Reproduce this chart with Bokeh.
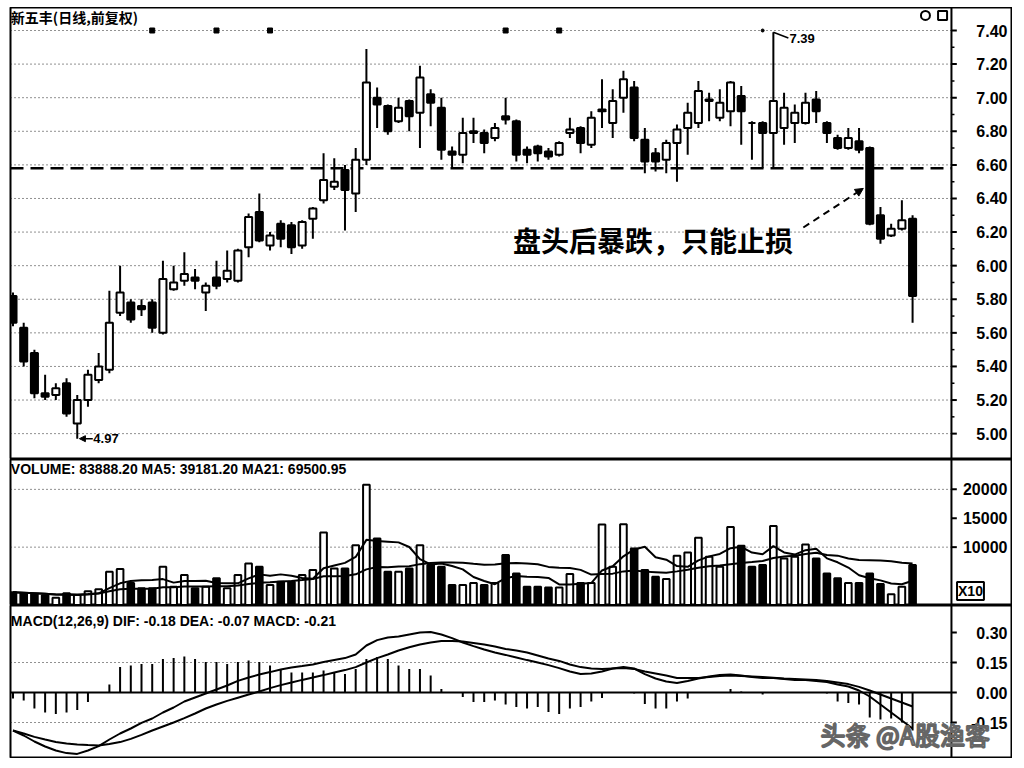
import pandas as pd
from bokeh.plotting import figure
from bokeh.models import (Range1d, ColumnDataSource, Label, Span,
                          Arrow, NormalHead)
from bokeh.layouts import column
from bokeh.embed import file_html
from bokeh.resources import INLINE
from bokeh.core.properties import value

# ---------------- data ----------------
opens = [5.82, 5.63, 5.48, 5.24, 5.23, 5.30, 5.06, 5.20, 5.32, 5.38,
         5.72, 5.78, 5.76, 5.78, 5.60, 5.86, 5.91, 5.93, 5.84, 5.93,
         5.92, 5.91, 6.11, 6.32, 6.12, 6.25, 6.24, 6.12, 6.28, 6.39,
         6.47, 6.57, 6.43, 6.63, 7.00, 6.95, 6.86, 6.98, 6.91, 7.02,
         6.94, 6.68, 6.66, 6.79, 6.79, 6.76, 6.89, 6.86, 6.69, 6.71,
         6.68, 6.66, 6.79, 6.82, 6.72, 6.92, 6.85, 7.00, 7.06, 6.75,
         6.67, 6.63, 6.73, 6.82, 6.85, 6.98, 6.88, 6.92, 7.01, 6.85,
         6.85, 6.79, 6.82, 6.85, 6.85, 6.99, 6.85, 6.76, 6.70, 6.74,
         6.70, 6.30, 6.18, 6.22, 6.28]
highs = [5.84, 5.66, 5.50, 5.35, 5.30, 5.33, 5.23, 5.38, 5.48, 5.85,
         6.00, 5.80, 5.80, 5.80, 6.03, 6.00, 6.08, 5.98, 5.90, 6.03,
         6.09, 6.10, 6.31, 6.43, 6.20, 6.27, 6.26, 6.27, 6.35, 6.67,
         6.64, 6.60, 6.70, 7.29, 7.06, 6.96, 7.00, 6.99, 7.19, 7.05,
         7.00, 6.71, 6.88, 6.88, 6.81, 6.85, 7.00, 6.87, 6.71, 6.72,
         6.70, 6.74, 6.88, 6.83, 6.92, 7.11, 7.05, 7.16, 7.10, 6.82,
         6.70, 6.75, 6.84, 6.97, 7.10, 7.03, 7.05, 7.10, 7.07, 6.86,
         6.86, 7.39, 7.03, 6.96, 7.03, 7.04, 6.86, 6.78, 6.82, 6.82,
         6.71, 6.35, 6.25, 6.39, 6.30]
lows = [5.64, 5.40, 5.21, 5.20, 5.20, 5.10, 4.97, 5.16, 5.30, 5.36,
        5.70, 5.66, 5.70, 5.60, 5.59, 5.85, 5.88, 5.86, 5.73, 5.86,
        5.90, 5.90, 6.05, 6.14, 6.09, 6.11, 6.07, 6.10, 6.16, 6.37,
        6.45, 6.21, 6.32, 6.60, 6.82, 6.78, 6.85, 6.80, 6.70, 6.83,
        6.63, 6.58, 6.61, 6.73, 6.67, 6.74, 6.84, 6.62, 6.61, 6.62,
        6.63, 6.65, 6.76, 6.67, 6.70, 6.82, 6.76, 6.91, 6.74, 6.55,
        6.56, 6.55, 6.50, 6.66, 6.82, 6.86, 6.86, 6.83, 6.72, 6.63,
        6.58, 6.58, 6.72, 6.73, 6.84, 6.85, 6.73, 6.69, 6.69, 6.67,
        6.24, 6.13, 6.17, 6.21, 5.66]
closes = [5.66, 5.43, 5.24, 5.22, 5.27, 5.12, 5.20, 5.35, 5.40, 5.66,
          5.84, 5.68, 5.74, 5.63, 5.92, 5.90, 5.95, 5.91, 5.88, 5.88,
          5.97, 6.09, 6.29, 6.15, 6.18, 6.16, 6.11, 6.26, 6.34, 6.51,
          6.50, 6.45, 6.63, 7.09, 6.96, 6.80, 6.94, 6.89, 7.12, 6.97,
          6.69, 6.66, 6.79, 6.80, 6.73, 6.82, 6.87, 6.66, 6.66, 6.67,
          6.65, 6.73, 6.81, 6.73, 6.88, 6.93, 6.98, 7.11, 6.76, 6.62,
          6.62, 6.73, 6.81, 6.91, 7.04, 6.99, 6.97, 7.09, 6.92, 6.85,
          6.79, 6.98, 6.94, 6.91, 6.97, 6.92, 6.79, 6.70, 6.76, 6.69,
          6.25, 6.16, 6.22, 6.27, 5.82]
volumes = [2190, 2010, 1840, 1670, 1260, 2010, 1700, 2360, 2700, 5750,
           6200, 3790, 2870, 2870, 6610, 3160, 5170, 2870, 3160, 4600,
           2870, 5170, 7180, 6610, 3450, 4020, 4020, 5170, 6030, 12530,
           6320, 6320, 10340, 20800, 11490, 5750, 5750, 6320, 10340, 6900,
           6610, 3450, 3450, 3790, 3450, 3790, 8620, 5460, 3160, 3160,
           3000, 3000, 5340, 3790, 3790, 13900, 6610, 13960, 9770, 6030,
           4880, 4480, 8510, 9080, 11610, 8330, 6610, 13500, 10230, 6610,
           6900, 13670, 8040, 8330, 10460, 8040, 5460, 4600, 3790, 3790,
           5460, 3620, 1840, 3160, 6900]
dif = [-0.19, -0.215, -0.245, -0.27, -0.29, -0.303, -0.307, -0.29, -0.268, -0.235,
       -0.205, -0.18, -0.152, -0.13, -0.10, -0.075, -0.045, -0.025, -0.005, 0.015,
       0.035, 0.058, 0.075, 0.09, 0.102, 0.115, 0.125, 0.132, 0.14, 0.152,
       0.162, 0.172, 0.19, 0.235, 0.262, 0.275, 0.28, 0.29, 0.30, 0.302,
       0.29, 0.272, 0.25, 0.232, 0.215, 0.20, 0.188, 0.175, 0.162, 0.15,
       0.137, 0.122, 0.105, 0.093, 0.095, 0.105, 0.12, 0.127, 0.12, 0.092,
       0.07, 0.055, 0.048, 0.058, 0.07, 0.08, 0.087, 0.09, 0.085, 0.078,
       0.073, 0.072, 0.068, 0.063, 0.062, 0.058, 0.052, 0.04, 0.03, 0.01,
       -0.02, -0.06, -0.10, -0.14, -0.18]
dea = [-0.19, -0.205, -0.222, -0.235, -0.247, -0.255, -0.26, -0.263, -0.265, -0.258,
       -0.248, -0.232, -0.212, -0.19, -0.17, -0.15, -0.128, -0.105, -0.08, -0.06,
       -0.042, -0.026, -0.01, 0.005, 0.022, 0.037, 0.05, 0.063, 0.075, 0.087,
       0.10, 0.112, 0.127, 0.15, 0.172, 0.19, 0.21, 0.226, 0.24, 0.25,
       0.257, 0.258, 0.255, 0.248, 0.24, 0.23, 0.218, 0.21, 0.20, 0.185,
       0.17, 0.158, 0.14, 0.127, 0.12, 0.118, 0.12, 0.122, 0.118, 0.105,
       0.095, 0.085, 0.073, 0.072, 0.073, 0.078, 0.082, 0.085, 0.083, 0.08,
       0.077, 0.074, 0.07, 0.068, 0.065, 0.062, 0.058, 0.05, 0.042, 0.028,
       0.01, -0.01, -0.03, -0.05, -0.07]
macd_hist = [-0.03, -0.04, -0.08, -0.10, -0.107, -0.10, -0.087, -0.048, 0.0, 0.04,
             0.127, 0.135, 0.143, 0.143, 0.168, 0.173, 0.18, 0.168, 0.152, 0.152,
             0.143, 0.152, 0.16, 0.152, 0.135, 0.118, 0.10, 0.10, 0.10, 0.11,
             0.10, 0.093, 0.118, 0.168, 0.177, 0.168, 0.135, 0.118, 0.118, 0.085,
             0.018, 0.0, -0.023, -0.047, -0.047, -0.04, -0.06, -0.073, -0.08, -0.073,
             -0.098, -0.107, -0.08, -0.073, -0.045, -0.028, 0.0, 0.0, -0.005, -0.057,
             -0.08, -0.08, -0.045, -0.03, 0.0, 0.0, 0.0, 0.017, 0.005, 0.0,
             -0.01, 0.0, 0.0, 0.0, 0.0, 0.0, -0.005, -0.045, -0.053, -0.06,
             -0.125, -0.135, -0.13, -0.15, -0.19]
event_idx = [13, 19, 24, 46, 51]
event_dot_idx = [70]
price_ticks = [5.0, 5.2, 5.4, 5.6, 5.8, 6.0, 6.2, 6.4, 6.6, 6.8, 7.0, 7.2, 7.4]
price_minor = [5.1, 5.3, 5.5, 5.7, 5.9, 6.1, 6.3, 6.5, 6.7, 6.9, 7.1, 7.3]
vol_ticks = [10000, 15000, 20000]
vol_grid = [10000, 20000]
macd_ticks = [-0.15, 0.0, 0.15, 0.30]
macd_grid = [-0.15, 0.15]
neck_level = 6.58

title_text = "新五丰(日线,前复权)"
vol_text = "VOLUME: 83888.20  MA5: 39181.20  MA21: 69500.95"
macd_text = "MACD(12,26,9)  DIF: -0.18  DEA: -0.07  MACD: -0.21"
note_text = "盘头后暴跌，只能止损"
watermark = "头条 @A股渔客"

# ---------------- derived ----------------
N = len(closes)
idx = list(range(N))
up = [c > o for o, c in zip(opens, closes)]
fill = ["white" if u else "black" for u in up]
src = ColumnDataSource(dict(
    x=idx, high=highs, low=lows,
    top=[max(o, c) for o, c in zip(opens, closes)],
    bottom=[min(o, c) for o, c in zip(opens, closes)],
    fill=fill, vol=volumes, hist=macd_hist, zero=[0.0] * N,
    dif=dif, dea=dea))
vs = pd.Series(volumes, dtype=float)
ma5 = vs.rolling(5, min_periods=1).mean().tolist()
ma21 = vs.rolling(21, min_periods=1).mean().tolist()

# layout constants (in bar-index units; one bar = 10.71 px)
X0, X1 = -0.233, 93.33
AXIS_X = 87.63
TICK_LEN = 0.5
MINOR_LEN = 0.28
LABEL_X = 92.86
xr = Range1d(X0, X1)
NUM_FONT = "Liberation Sans"
CJK = "Noto Sans CJK SC"


def make_fig(h, y0, y1):
    p = figure(output_backend="svg", toolbar_location=None,
               frame_width=1002, frame_height=h, x_range=xr,
               y_range=Range1d(y0, y1),
               min_border_left=1, min_border_right=0,
               min_border_top=0, min_border_bottom=0)
    p.axis.visible = False
    p.grid.visible = False
    p.outline_line_color = "black"
    p.outline_line_width = 2
    p.outline_line_alpha = 1
    p.background_fill_color = "white"
    p.border_fill_color = "white"
    p.add_layout(Span(location=AXIS_X, dimension="height", line_color="black",
                      line_width=2))
    return p


def add_axis(p, ticks, minor, fmt, grid_vals):
    n = len(ticks)
    p.segment(x0=[AXIS_X] * n, y0=ticks, x1=[AXIS_X + TICK_LEN] * n, y1=ticks,
              line_color="black", line_width=2)
    if minor:
        m = len(minor)
        p.segment(x0=[AXIS_X] * m, y0=minor, x1=[AXIS_X + MINOR_LEN] * m,
                  y1=minor, line_color="black", line_width=1.5)
    p.text(x=[LABEL_X] * n, y=ticks, text=[fmt % t for t in ticks],
           text_font=value(NUM_FONT), text_font_style="bold",
           text_font_size="16px", text_align="right", text_baseline="middle",
           text_color="black")
    g = len(grid_vals)
    p.segment(x0=[X0] * g, y0=grid_vals, x1=[AXIS_X] * g, y1=grid_vals,
              line_color="#222222", line_dash="1 3", line_width=1)


def label(p, **kw):
    kw.setdefault("text_color", "black")
    kw.setdefault("text_baseline", "middle")
    p.add_layout(Label(**kw))


# ---------------- price panel ----------------
pp = make_fig(452, 4.846, 7.537)
add_axis(pp, price_ticks, price_minor, "%.2f", price_ticks)
pp.segment(x0=[X0], y0=[neck_level], x1=[AXIS_X], y1=[neck_level],
           line_color="black", line_dash="13 7", line_width=2.5)
pp.segment(x0="x", y0="low", x1="x", y1="high", source=src,
           line_color="black", line_width=2)
pp.vbar(x="x", top="top", bottom="bottom", width=0.66, source=src,
        fill_color="fill", line_color="black", line_width=2)
pp.scatter(x=event_idx, y=[price_ticks[-1]] * len(event_idx), marker="square",
           size=5, color="black")
pp.scatter(x=event_dot_idx, y=[price_ticks[-1]] * len(event_dot_idx),
           marker="circle", size=3, color="black")
# toolbar-like icons at top right
pp.scatter(x=[85.2], y=[7.49], marker="circle", size=9, fill_color="white",
           line_color="black", line_width=2)
pp.scatter(x=[86.8], y=[7.49], marker="square", size=9, fill_color="white",
           line_color="black", line_width=2)

hi_i = highs.index(max(highs))
lo_i = lows.index(min(lows))
pp.add_layout(Arrow(end=None, x_start=hi_i, y_start=highs[hi_i],
                    x_end=hi_i + 1.4, y_end=highs[hi_i] - 0.035,
                    line_width=1.5, line_color="black"))
label(pp, x=hi_i + 1.5, y=highs[hi_i] - 0.04, text=f"{max(highs):.2f}",
      text_font=NUM_FONT, text_font_style="bold", text_font_size="13px")
pp.add_layout(Arrow(end=NormalHead(size=6, fill_color="black", line_color="black"),
                    x_start=lo_i + 1.45, y_start=lows[lo_i],
                    x_end=lo_i + 0.2, y_end=lows[lo_i],
                    line_width=1.5, line_color="black"))
label(pp, x=lo_i + 1.5, y=lows[lo_i], text=f"{min(lows):.2f}",
      text_font=NUM_FONT, text_font_style="bold", text_font_size="13px")
label(pp, x=-0.2, y=7.48, text=title_text, text_font=CJK,
      text_font_style="bold", text_font_size="14px")
label(pp, x=46.7, y=6.15, text=note_text, text_font=CJK,
      text_font_style="bold", text_font_size="28px")
pp.add_layout(Arrow(end=NormalHead(size=8, fill_color="black", line_color="black"),
                    x_start=73.8, y_start=6.227, x_end=79.4, y_end=6.46,
                    line_width=2, line_dash="7 5", line_color="black"))

# ---------------- volume panel ----------------
pv = make_fig(146, -100, 25170)
add_axis(pv, vol_ticks, [], "%d", vol_grid)
pv.vbar(x="x", top="vol", bottom=0, width=0.62, source=src,
        fill_color="fill", line_color="black", line_width=2)
pv.line(idx, ma21, line_color="black", line_width=2)
pv.line(idx, ma5, line_color="black", line_width=2)
label(pv, x=-0.2, y=23500, text=vol_text, text_font=NUM_FONT,
      text_font_style="bold", text_font_size="14px")
label(pv, x=88.15, y=2400, text="X10", text_font=NUM_FONT,
      text_font_style="bold", text_font_size="14px",
      border_line_color="black", border_line_width=2,
      background_fill_color="white", padding=1)

# ---------------- MACD panel ----------------
pm = make_fig(153, -0.33, 0.435)
add_axis(pm, macd_ticks, [], "%.2f", macd_grid)
pm.segment(x0=[X0], y0=[0.0], x1=[AXIS_X], y1=[0.0], line_color="black",
           line_width=2)
pm.segment(x0="x", y0="zero", x1="x", y1="hist", source=src,
           line_color="black", line_width=2)
pm.line("x", "dea", source=src, line_color="black", line_width=2)
pm.line("x", "dif", source=src, line_color="black", line_width=2)
label(pm, x=-0.2, y=0.36, text=macd_text, text_font=NUM_FONT,
      text_font_style="bold", text_font_size="14px")
label(pm, x=75.4, y=-0.205, text=watermark, text_font=CJK,
      text_font_size="25px", text_color="white", text_outline_color="#666666")

layout = column(pp, pv, pm, spacing=0, margin=(7, 0, 0, 9))
open("out.html", "w").write(file_html(layout, INLINE))
